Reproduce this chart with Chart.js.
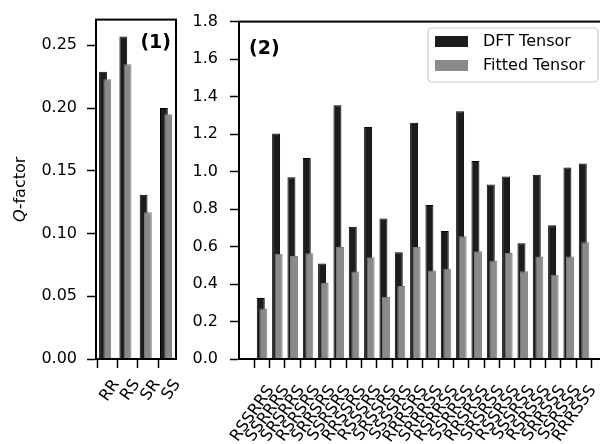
<!DOCTYPE html>
<html><head><meta charset="utf-8">
<script src="https://cdn.jsdelivr.net/npm/chart.js@4"></script>
<style>
html,body{margin:0;padding:0;background:#fff;overflow:hidden;width:600px;height:444px;}
#c1{position:absolute;left:0;top:0;}
#c2{position:absolute;left:185px;top:0;}
</style></head><body>
<canvas id="c1" width="185" height="444"></canvas>
<canvas id="c2" width="440" height="444"></canvas>
<script>
// ---- data ----
const pairLabels = ["RR","RS","SR","SS"];
const pairDFT    = [0.229,0.257,0.131,0.200];
const pairFitted = [0.223,0.235,0.117,0.195];

const tripleLabels = ["RSSRRS","SSRRRS","SRSRRS","RSRSRS","SRRSRS","SSRSRS","RRSSRS","RSSSRS","SRSSRS","SSSSRS","RRRSRS",
                      "SRRRSS","RSRRSS","SSRRSS","RRSRSS","SRSRSS","RSSRSS","SSSRSS","RSRSSS","SRRSSS","SSRSSS","RRRSSS"];
const tripleDFT    = [0.325,1.203,0.969,1.072,0.509,1.354,0.706,1.238,0.750,0.570,1.261,
                      0.822,0.683,1.322,1.056,0.931,0.974,0.617,0.983,0.713,1.022,1.043];
const tripleFitted = [0.270,0.561,0.550,0.564,0.405,0.598,0.467,0.543,0.332,0.389,0.598,
                      0.472,0.481,0.655,0.575,0.524,0.566,0.468,0.547,0.449,0.547,0.623];

const seriesNames = ["DFT Tensor","Fitted Tensor"];
const pairYTicks = [0,0.05,0.10,0.15,0.20,0.25];
const tripleYTicks = [0,0.2,0.4,0.6,0.8,1.0,1.2,1.4,1.6,1.8];

const FONT = "DejaVu Sans";
const DARK = "#1c1c1c", GREY = "#8a8a8a";

function pts(vals){ return vals.map((v,i)=>({x:i,y:v})); }

function boxPlugin(){
  return { id:'box', afterDraw(chart){
    const {ctx, chartArea:a} = chart;
    ctx.save(); ctx.strokeStyle='#000'; ctx.lineWidth=2;
    ctx.strokeRect(a.left, a.top, a.right-a.left, a.bottom-a.top);
    ctx.restore();
  }};
}

function makeChart(id, labels, dft, fit, yTicks, yMax, decimals, cfg, extra){
  const catTicks = s => { s.ticks = labels.map((l,i)=>({value:i})); };
  return new Chart(document.getElementById(id), {
    type:'bar',
    data:{ datasets:[
      // grey painted on top (dataset 0 is painted last); offset via its own shifted index scale
      {label:seriesNames[1], data:pts(fit), xAxisID:'xg', backgroundColor:GREY, borderColor:'#7a7a7a', borderWidth:1},
      {label:seriesNames[0], data:pts(dft), xAxisID:'x', backgroundColor:DARK, borderColor:'#000', borderWidth:1}
    ]},
    options:{
      responsive:false, animation:false, devicePixelRatio:1,
      layout:{ autoPadding:false, padding:{left:0, right:cfg.padRight, top:cfg.padTop, bottom:0} },
      datasets:{ bar:{ grouped:false, categoryPercentage:1, barPercentage:cfg.barPct } },
      plugins:{ legend:{display:false}, tooltip:{enabled:false} },
      scales:{
        x:{ type:'linear', min:cfg.xMin, max:cfg.xMax, bounds:'data', offset:false,
            afterBuildTicks: s => { s.ticks = labels.map((l,i)=>({value:i+cfg.tickShift})); },
            afterFit: s => { s.height = 85; s.paddingLeft = 0; s.paddingRight = 0; },
            ticks:{ callback:(v,i)=>labels[i], autoSkip:false, minRotation:55, maxRotation:55,
                    font:{family:FONT,size:16}, color:'#000', padding:cfg.xPad, labelOffset:cfg.labelOffset },
            grid:{ display:true, drawOnChartArea:false, drawTicks:true, tickLength:9, tickColor:'#000', tickWidth:1.5 },
            border:{ display:true, color:'#000', width:2 } },
        xg:{ type:'linear', display:false, min:cfg.xMin-cfg.shift, max:cfg.xMax-cfg.shift, bounds:'data', offset:false,
             afterBuildTicks: catTicks },
        y:{ min:0, max:yMax, bounds:'data',
            afterBuildTicks: s => { s.ticks = yTicks.map(v=>({value:v})); },
            afterFit: s => { s.width = cfg.yWidth; },
            ticks:{ callback:v=>Number(v).toFixed(decimals), font:{family:FONT,size:16}, color:'#000', padding:cfg.yPad },
            grid:{ display:true, drawOnChartArea:false, drawTicks:true, tickLength:9, tickColor:'#000', tickWidth:1.5 },
            border:{ display:true, color:'#000', width:2 } }
      }
    },
    plugins:[boxPlugin(), extra]
  });
}

const panel1Extra = { id:'p1', afterDraw(chart){
  const ctx = chart.ctx, a = chart.chartArea;
  ctx.save();
  ctx.fillStyle='#000';
  ctx.font = "bold 19px " + FONT; ctx.textAlign='right'; ctx.textBaseline='top';
  ctx.fillText("(1)", a.right-5, a.top+14);
  ctx.translate(21, (a.top+a.bottom)/2);
  ctx.rotate(-Math.PI/2);
  ctx.textBaseline='middle'; ctx.textAlign='left';
  ctx.font = "italic 16px " + FONT; const w1 = ctx.measureText("Q").width;
  ctx.font = "16px " + FONT; const w2 = ctx.measureText("-factor").width;
  const x0 = -(w1+w2)/2;
  ctx.font = "italic 16px " + FONT; ctx.fillText("Q", x0, 0);
  ctx.font = "16px " + FONT; ctx.fillText("-factor", x0+w1, 0);
  ctx.restore();
}};

const panel2Extra = { id:'p2', afterDraw(chart){
  const ctx = chart.ctx, a = chart.chartArea;
  ctx.save();
  ctx.fillStyle='#000';
  ctx.font = "bold 19px " + FONT; ctx.textAlign='left'; ctx.textBaseline='top';
  ctx.fillText("(2)", a.left+10, a.top+18);
  const lx = 243, ly = 28, lw = 170, lh = 54;
  ctx.beginPath();
  if (ctx.roundRect) ctx.roundRect(lx, ly, lw, lh, 4); else ctx.rect(lx, ly, lw, lh);
  ctx.fillStyle='rgba(255,255,255,0.85)'; ctx.fill();
  ctx.strokeStyle='#cccccc'; ctx.lineWidth=1.2; ctx.stroke();
  [DARK, GREY].forEach((col,i)=>{
    const y = ly + 8 + i*24;
    ctx.fillStyle = col; ctx.fillRect(lx+7, y, 33, 11);
    ctx.fillStyle='#000'; ctx.font = "16px " + FONT; ctx.textAlign='left'; ctx.textBaseline='middle';
    ctx.fillText(seriesNames[i], lx+55, y+6);
  });
  ctx.restore();
}};

makeChart('c1', pairLabels, pairDFT, pairFitted, pairYTicks, 0.2705, 2,
  {xMin:-0.345, xMax:3.596, shift:0.21, tickShift:0.21, barPct:0.385, yWidth:96, padRight:9, padTop:19, labelOffset:9, xPad:8, yPad:10}, panel1Extra);
makeChart('c2', tripleLabels, tripleDFT, tripleFitted, tripleYTicks, 1.8, 1,
  {xMin:-1.42, xMax:22.58, shift:0.165, tickShift:0.07, barPct:0.52, yWidth:54, padRight:18, padTop:20, labelOffset:9, xPad:14, yPad:12}, panel2Extra);
</script>
</body></html>
